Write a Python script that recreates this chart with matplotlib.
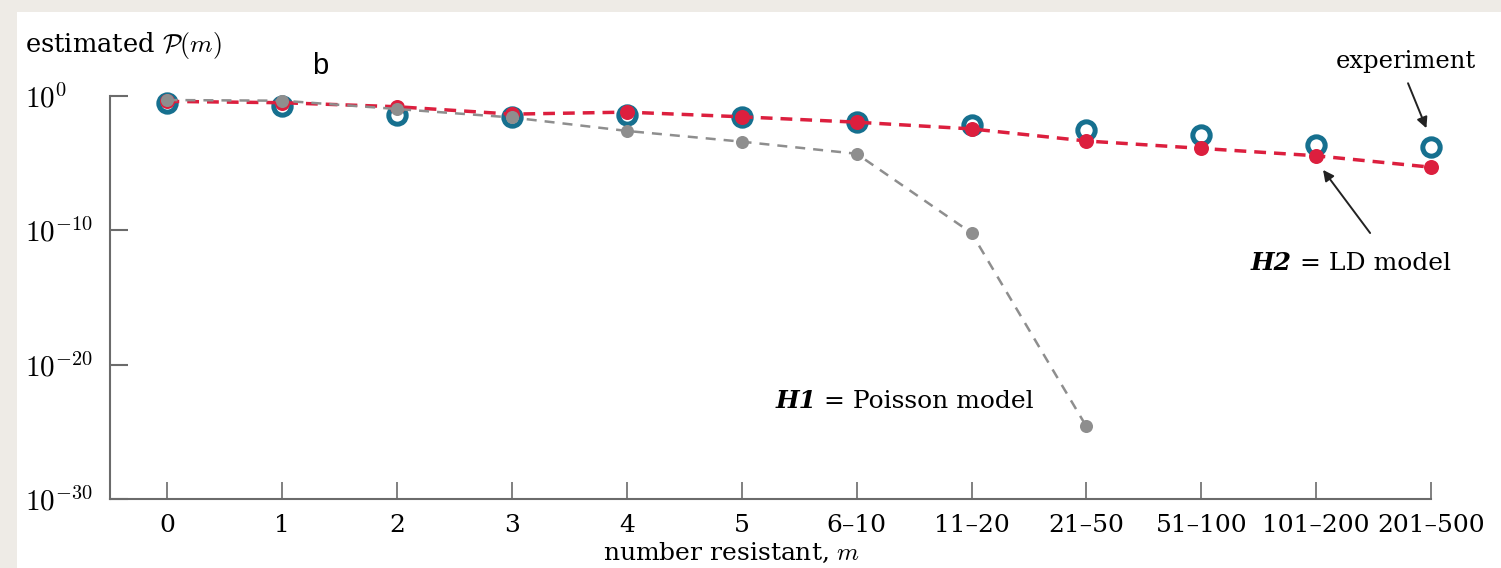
import numpy as np
import matplotlib
matplotlib.use("Agg")
import matplotlib.pyplot as plt
from matplotlib.patches import Rectangle

plt.rcParams["mathtext.fontset"] = "cm"
plt.rcParams["font.family"] = ["DejaVu Serif"]

# categories of the number of resistant cultures
categories = ["0", "1", "2", "3", "4", "5", "6–10", "11–20", "21–50",
              "51–100", "101–200", "201–500"]

# log10 of estimated probabilities
log_experiment = [-0.52, -0.75, -1.4, -1.55, -1.4, -1.55, -1.95, -2.15,
                  -2.55, -2.9, -3.65, -3.8]
log_ld_model = [-0.4, -0.5, -0.8, -1.35, -1.2, -1.55, -1.95, -2.45,
                -3.35, -3.9, -4.45, -5.3]
log_poisson = [-0.3, -0.35, -0.97, -1.6, -2.6, -3.4, -4.3, -10.2, -24.6]

yticks = [1e0, 1e-10, 1e-20, 1e-30]
ytick_labels = [r"$10^{0}$", r"$10^{-10}$", r"$10^{-20}$", r"$10^{-30}$"]

blue = "#16708f"
red = "#dc1f3e"
gray = "#8e8e8e"

W, H = 1501, 568
fig = plt.figure(figsize=(W / 100, H / 100), dpi=100)
fig.patch.set_facecolor("#eeebe6")
fig.patches.append(Rectangle((17 / W, 0), 1 - 17 / W, 1 - 12 / H,
                             transform=fig.transFigure, facecolor="white",
                             edgecolor="none", zorder=-5))

ax = fig.add_axes([110 / W, 1 - 499 / H, (1431 - 110) / W, (499 - 96) / H])
ax.patch.set_alpha(0)

x = np.arange(len(categories))
exp_vals = 10.0 ** np.array(log_experiment)
ld_vals = 10.0 ** np.array(log_ld_model)
poi_vals = 10.0 ** np.array(log_poisson)
xp = x[:len(poi_vals)]

# experiment: open circles
ax.plot(x, exp_vals, "o", ms=12.5, mfc="white", mec=blue, mew=3.6,
        clip_on=False, zorder=3)
# LD model
ax.plot(x, ld_vals, color=red, lw=2.5, dashes=(3.4, 2.3), clip_on=False,
        zorder=4)
ax.plot(x, ld_vals, "o", ms=10.8, color=red, mec="none", clip_on=False,
        zorder=4)
# Poisson model
ax.plot(xp, poi_vals, color=gray, lw=1.8, dashes=(4, 3.2), clip_on=False,
        zorder=5)
ax.plot(xp, poi_vals, "o", ms=9.4, color=gray, mec="none", clip_on=False,
        zorder=5)

ax.set_yscale("log")
ax.set_ylim(1e-30, 1e0)
ax.set_xlim(-0.5, 11)
ax.set_yticks(yticks)
ax.set_yticklabels(ytick_labels, fontsize=21)
ax.minorticks_off()
ax.set_xticks(x)
ax.set_xticklabels(categories, fontsize=18)

for s in ["top", "right"]:
    ax.spines[s].set_visible(False)
for s in ["left", "bottom"]:
    ax.spines[s].set_color("#6b6b6b")
    ax.spines[s].set_linewidth(1.5)

ax.tick_params(axis="y", direction="in", length=13, width=1.5,
               color="#6b6b6b", pad=61)
ax.tick_params(axis="x", direction="in", length=12.5, width=1.2,
               color="#6b6b6b", pad=11)
for lab in ax.get_yticklabels():
    lab.set_horizontalalignment("left")

# labels
fig.text(25 / W, 1 - 52 / H, r"estimated $\mathcal{P}(m)$", fontsize=18.5,
         va="baseline", ha="left")
fig.text(320 / W, 1 - 66 / H, "b", fontsize=21, family="Liberation Sans",
         va="center", ha="center")
fig.text(732 / W, 1 - 553 / H, r"number resistant, $m$", fontsize=18,
         va="center", ha="center")

# annotations
def yv(logv):
    return 10.0 ** logv

ax.text(10.78, yv(2.55), "experiment", fontsize=17.5, ha="center",
        va="center")
ax.annotate("", xy=(10.96, yv(-2.4)), xytext=(10.8, yv(0.95)),
            arrowprops=dict(arrowstyle="-|>", color="#222222", lw=1.4,
                            mutation_scale=16, shrinkA=0, shrinkB=0),
            annotation_clip=False)

t2 = ax.text(9.43, yv(-12.95), "H2", fontsize=18, fontweight="bold",
             fontstyle="italic", ha="left", va="baseline")
ax.annotate(" = LD model", xy=(1, 0), xycoords=t2, fontsize=18,
            va="bottom", ha="left")
ax.annotate("", xy=(10.06, yv(-5.5)), xytext=(10.47, yv(-10.2)),
            arrowprops=dict(arrowstyle="-|>", color="#222222", lw=1.4,
                            mutation_scale=16, shrinkA=0, shrinkB=0),
            annotation_clip=False)

t1 = ax.text(5.29, yv(-23.2), "H1", fontsize=18, fontweight="bold",
             fontstyle="italic", ha="left", va="baseline")
ax.annotate(" = Poisson model", xy=(1, 0), xycoords=t1, fontsize=18,
            va="bottom", ha="left")

fig.savefig("out.png", dpi=100, facecolor=fig.get_facecolor())
